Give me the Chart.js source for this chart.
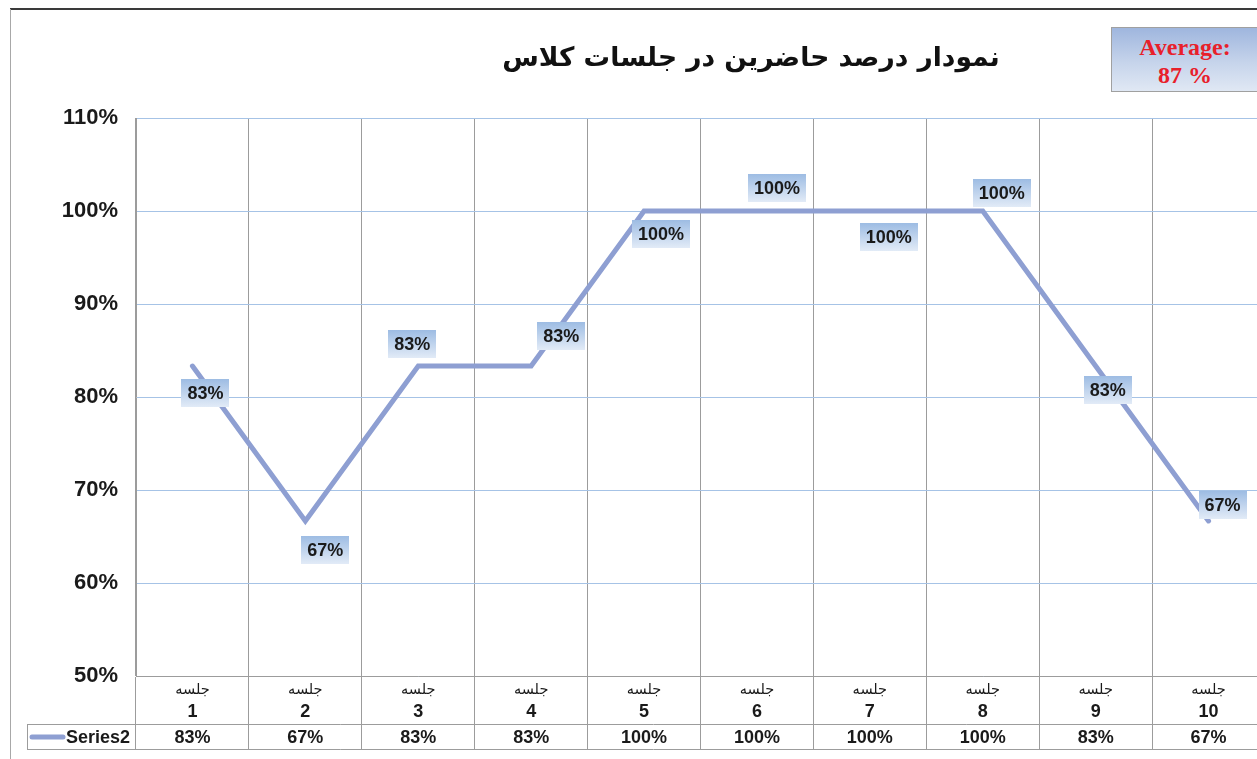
<!DOCTYPE html>
<html>
<head>
<meta charset="utf-8">
<script src="https://cdn.jsdelivr.net/npm/chart.js@4.4.1/dist/chart.umd.min.js"></script>
<style>
  html, body { margin: 0; padding: 0; background: #fff; overflow: hidden; width: 1257px; height: 759px; }
  #wrap { position: relative; width: 1280px; height: 759px; }
  #c { position: absolute; left: 0; top: 0; }
  #frameTop { position: absolute; left: 10px; top: 8px; width: 1270px; height: 2px; background: #3a3a3a; }
  #frameLeft { position: absolute; left: 10px; top: 9px; width: 1px; height: 760px; background: #a8a8a8; }
  #title { position: absolute; left: 401px; width: 700px; top: 41px; text-align: center; direction: rtl;
           font: bold 26.5px "DejaVu Sans", sans-serif; color: #111; }
  #avg { position: absolute; left: 1111px; top: 27px; width: 160px; height: 65px;
         border: 1px solid #a0a0a0; box-sizing: border-box;
         background: linear-gradient(to bottom, #9fb6de 0%, #c6d4eb 55%, #e0e8f4 100%);
         font: bold 24px "Liberation Serif", "Times New Roman", serif; color: #e8202a;
         text-align: left; line-height: 28px; }
  #avg div { width: 146px; text-align: center; }
</style>
</head>
<body>
<div id="wrap">
  <canvas id="c" width="1280" height="759"></canvas>
  <div id="frameTop"></div>
  <div id="frameLeft"></div>
  <div id="title">نمودار درصد حاضرین در جلسات کلاس</div>
  <div id="avg"><div style="margin-top:5px">Average:</div><div id="avgVal"></div></div>
</div>
<script>
// ---- data ----
const sessionWord = "جلسه";
const sessions = ["1", "2", "3", "4", "5", "6", "7", "8", "9", "10"];
const seriesName = "Series2";
const attendance = [0.8333, 0.6667, 0.8333, 0.8333, 1.0, 1.0, 1.0, 1.0, 0.8333, 0.6667];
const yTicks = [0.5, 0.6, 0.7, 0.8, 0.9, 1.0, 1.1];

// label placement offsets (px, relative to the point)
const labelOffsets = [[13, 27], [20, 29], [-6, -22], [30, -30], [17, 23], [20, -23], [19, 26], [19, -18], [12, 24], [14, -16]];

const avg = attendance.reduce((a, b) => a + b, 0) / attendance.length;
document.getElementById('avgVal').textContent = Math.round(avg * 100) + ' %';

const pct = v => Math.round(v * 100) + '%';
const LINE_COLOR = '#8e9fd2';
const GRAY = '#9c9c9c';

const labelPlugin = {
  id: 'dataLabels',
  afterDatasetsDraw(chart) {
    const ctx = chart.ctx;
    const meta = chart.getDatasetMeta(0);
    ctx.save();
    ctx.font = 'bold 18px "Liberation Sans", Arial, sans-serif';
    ctx.textAlign = 'center';
    ctx.textBaseline = 'middle';
    meta.data.forEach((pt, i) => {
      const txt = pct(attendance[i]);
      const [dx, dy] = labelOffsets[i];
      const cx = pt.x + dx, cy = pt.y + dy;
      const w = ctx.measureText(txt).width + 12, h = 28;
      const g = ctx.createLinearGradient(0, cy - h / 2, 0, cy + h / 2);
      g.addColorStop(0, '#9dbce3');
      g.addColorStop(1, '#e2ebf7');
      ctx.fillStyle = g;
      ctx.fillRect(Math.round(cx - w / 2), Math.round(cy - h / 2), Math.round(w), h);
      ctx.fillStyle = '#1a1a1a';
      ctx.fillText(txt, cx, cy + 1);
    });
    ctx.restore();
  }
};

const tablePlugin = {
  id: 'dataTable',
  afterDraw(chart) {
    const ctx = chart.ctx;
    const xs = chart.scales.x;
    ctx.save();
    // table lines
    ctx.strokeStyle = GRAY;
    ctx.lineWidth = 1;
    ctx.beginPath();
    ctx.moveTo(27, 724.5); ctx.lineTo(1280, 724.5);
    ctx.moveTo(27, 749.5); ctx.lineTo(1280, 749.5);
    ctx.moveTo(27.5, 724); ctx.lineTo(27.5, 750);
    ctx.stroke();
    ctx.textAlign = 'center';
    ctx.textBaseline = 'middle';
    ctx.fillStyle = '#1a1a1a';
    sessions.forEach((s, i) => {
      const x = xs.getPixelForValue(i);
      ctx.font = '14.5px "DejaVu Sans", sans-serif';
      ctx.fillText(sessionWord, x, 690);
      ctx.font = 'bold 18px "Liberation Sans", Arial, sans-serif';
      ctx.fillText(s, x, 712);
      ctx.fillText(pct(attendance[i]), x, 738);
    });
    // legend key
    ctx.strokeStyle = LINE_COLOR;
    ctx.lineWidth = 5;
    ctx.lineCap = 'round';
    ctx.beginPath();
    ctx.moveTo(32, 737); ctx.lineTo(63, 737);
    ctx.stroke();
    ctx.textAlign = 'left';
    ctx.font = 'bold 18px "Liberation Sans", Arial, sans-serif';
    ctx.fillText(seriesName, 66, 738);
    ctx.restore();
  }
};

new Chart(document.getElementById('c'), {
  type: 'line',
  data: {
    labels: sessions,
    datasets: [{
      label: seriesName,
      data: attendance,
      borderColor: LINE_COLOR,
      borderWidth: 5,
      borderCapStyle: 'round',
      borderJoinStyle: 'miter',
      pointRadius: 0,
      pointHoverRadius: 0,
      tension: 0,
      fill: false
    }]
  },
  options: {
    responsive: false,
    animation: false,
    devicePixelRatio: 1,
    layout: { padding: { left: 0, right: 15, top: 118, bottom: 10 } },
    plugins: { legend: { display: false }, tooltip: { enabled: false }, title: { display: false } },
    scales: {
      x: {
        type: 'category',
        offset: true,
        grid: { offset: true, color: GRAY, tickColor: GRAY, drawTicks: true, tickLength: 73, lineWidth: 1 },
        border: { color: GRAY, width: 1 },
        ticks: { display: false },
        afterFit(scale) { scale.height = 73; }
      },
      y: {
        min: 0.5, max: 1.1,
        afterBuildTicks(scale) { scale.ticks = yTicks.map(v => ({ value: v })); },
        grid: { color: '#a6c3e6', drawTicks: false, lineWidth: 1 },
        border: { color: GRAY, width: 1 },
        ticks: {
          padding: 18,
          color: '#1a1a1a',
          font: { family: '"Liberation Sans", Arial, sans-serif', size: 22, weight: 'bold' },
          callback: v => pct(v)
        },
        afterFit(scale) { scale.width = 136; }
      }
    }
  },
  plugins: [labelPlugin, tablePlugin]
});
</script>
</body>
</html>
